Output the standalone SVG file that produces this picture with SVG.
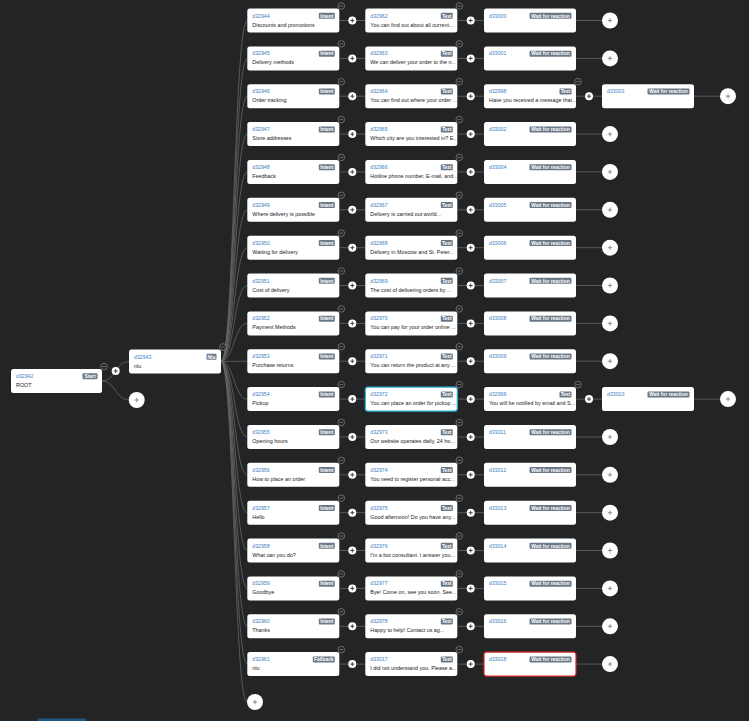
<svg xmlns="http://www.w3.org/2000/svg" width="749" height="721" viewBox="0 0 749 721">
<style>
.b{fill:#fff}
.id{font-family:"Liberation Sans",Arial,sans-serif;font-size:5.2px;fill:#3b82c4}
.lb{font-family:"Liberation Sans",Arial,sans-serif;font-size:5.4px;fill:#222}
.bd{fill:#6b7886}
.bt{font-family:"Liberation Sans",Arial,sans-serif;font-size:4.9px;font-weight:bold;fill:#fff;text-anchor:middle}
.c{fill:none;stroke:#666;stroke-width:.8}
.sel{stroke:#2ab0d8;stroke-width:1.2}
.err{stroke:#d42a2a;stroke-width:1.2}
</style>
<defs>
<g id="ps"><circle r="4" fill="#fff"/><path d="M-2,0H2M0,-2V2" stroke="#333" stroke-width=".9"/></g>
<g id="pb"><circle r="8" fill="#fff"/><path d="M-2.2,0H2.2M0,-2.2V2.2" stroke="#777" stroke-width=".8"/></g>
<g id="mi"><circle r="3.3" fill="#232425" stroke="#8a8a8a" stroke-width=".7"/><path d="M-1.8,0H1.8" stroke="#8a8a8a" stroke-width=".7"/></g>
</defs>
<rect width="749" height="721" fill="#232425"/>
<rect x="0" y="720" width="749" height="1" fill="#1c2a33"/>
<rect x="38" y="718.5" width="48" height="2.5" fill="#1f5a85"/>
<g id="connectors" class="c">
<path d="M102,381C115.5,381 115.5,361.5 129,361.5"/>
<path d="M102,381C115.5,381 115.5,400 128.7,400"/>
<path d="M221,361.5C234,361.5 234,20.5 247.3,20.5"/>
<path d="M221,361.5C234,361.5 234,58.4 247.3,58.4"/>
<path d="M221,361.5C234,361.5 234,96.2 247.3,96.2"/>
<path d="M221,361.5C234,361.5 234,134.1 247.3,134.1"/>
<path d="M221,361.5C234,361.5 234,171.9 247.3,171.9"/>
<path d="M221,361.5C234,361.5 234,209.8 247.3,209.8"/>
<path d="M221,361.5C234,361.5 234,247.7 247.3,247.7"/>
<path d="M221,361.5C234,361.5 234,285.5 247.3,285.5"/>
<path d="M221,361.5C234,361.5 234,323.4 247.3,323.4"/>
<path d="M221,361.5C234,361.5 234,361.2 247.3,361.2"/>
<path d="M221,361.5C234,361.5 234,399.1 247.3,399.1"/>
<path d="M221,361.5C234,361.5 234,437 247.3,437"/>
<path d="M221,361.5C234,361.5 234,474.8 247.3,474.8"/>
<path d="M221,361.5C234,361.5 234,512.7 247.3,512.7"/>
<path d="M221,361.5C234,361.5 234,550.5 247.3,550.5"/>
<path d="M221,361.5C234,361.5 234,588.4 247.3,588.4"/>
<path d="M221,361.5C234,361.5 234,626.3 247.3,626.3"/>
<path d="M221,361.5C234,361.5 234,664.1 247.3,664.1"/>
<path d="M221,361.5C234,361.5 234,702 247,702"/>
<path d="M339.3,20.5H365.3M457.3,20.5H484M576,20.5H602"/>
<path d="M339.3,58.4H365.3M457.3,58.4H484M576,58.4H602"/>
<path d="M339.3,96.2H365.3M457.3,96.2H484M576,96.2H602M694,96.2H720"/>
<path d="M339.3,134.1H365.3M457.3,134.1H484M576,134.1H602"/>
<path d="M339.3,171.9H365.3M457.3,171.9H484M576,171.9H602"/>
<path d="M339.3,209.8H365.3M457.3,209.8H484M576,209.8H602"/>
<path d="M339.3,247.7H365.3M457.3,247.7H484M576,247.7H602"/>
<path d="M339.3,285.5H365.3M457.3,285.5H484M576,285.5H602"/>
<path d="M339.3,323.4H365.3M457.3,323.4H484M576,323.4H602"/>
<path d="M339.3,361.2H365.3M457.3,361.2H484M576,361.2H602"/>
<path d="M339.3,399.1H365.3M457.3,399.1H484M576,399.1H602M694,399.1H720"/>
<path d="M339.3,437H365.3M457.3,437H484M576,437H602"/>
<path d="M339.3,474.8H365.3M457.3,474.8H484M576,474.8H602"/>
<path d="M339.3,512.7H365.3M457.3,512.7H484M576,512.7H602"/>
<path d="M339.3,550.5H365.3M457.3,550.5H484M576,550.5H602"/>
<path d="M339.3,588.4H365.3M457.3,588.4H484M576,588.4H602"/>
<path d="M339.3,626.3H365.3M457.3,626.3H484M576,626.3H602"/>
<path d="M339.3,664.1H365.3M457.3,664.1H484M576,664.1H602"/>
</g>
<g id="n-d32942" transform="translate(11,369)"><rect class="b" width="91" height="24" rx="2.5"/><text class="id" x="5" y="9">d32942</text><text class="lb" x="5" y="18">ROOT</text><rect class="bd" x="71.5" y="4.3" width="15" height="6" rx="1"/><text class="bt" x="79" y="9">Start</text></g>
<g id="n-d32943" transform="translate(129,349.5)"><rect class="b" width="92" height="24" rx="2.5"/><text class="id" x="5" y="9">d32943</text><text class="lb" x="5" y="18">nlu</text><rect class="bd" x="77.5" y="4.3" width="10" height="6" rx="1"/><text class="bt" x="82.5" y="9">Nlu</text></g>

<g id="n-d32944" transform="translate(247.3,8.5)"><rect class="b" width="92" height="24" rx="2.5"/><text class="id" x="5" y="9">d32944</text><text class="lb" x="5" y="18">Discounts and promotions</text><rect class="bd" x="71.5" y="4.3" width="16" height="6" rx="1"/><text class="bt" x="79.5" y="9">Intent</text></g>
<g id="n-d32945" transform="translate(247.3,46.4)"><rect class="b" width="92" height="24" rx="2.5"/><text class="id" x="5" y="9">d32945</text><text class="lb" x="5" y="18">Delivery methods</text><rect class="bd" x="71.5" y="4.3" width="16" height="6" rx="1"/><text class="bt" x="79.5" y="9">Intent</text></g>
<g id="n-d32946" transform="translate(247.3,84.2)"><rect class="b" width="92" height="24" rx="2.5"/><text class="id" x="5" y="9">d32946</text><text class="lb" x="5" y="18">Order tracking</text><rect class="bd" x="71.5" y="4.3" width="16" height="6" rx="1"/><text class="bt" x="79.5" y="9">Intent</text></g>
<g id="n-d32947" transform="translate(247.3,122.1)"><rect class="b" width="92" height="24" rx="2.5"/><text class="id" x="5" y="9">d32947</text><text class="lb" x="5" y="18">Store addresses</text><rect class="bd" x="71.5" y="4.3" width="16" height="6" rx="1"/><text class="bt" x="79.5" y="9">Intent</text></g>
<g id="n-d32948" transform="translate(247.3,159.9)"><rect class="b" width="92" height="24" rx="2.5"/><text class="id" x="5" y="9">d32948</text><text class="lb" x="5" y="18">Feedback</text><rect class="bd" x="71.5" y="4.3" width="16" height="6" rx="1"/><text class="bt" x="79.5" y="9">Intent</text></g>
<g id="n-d32949" transform="translate(247.3,197.8)"><rect class="b" width="92" height="24" rx="2.5"/><text class="id" x="5" y="9">d32949</text><text class="lb" x="5" y="18">Where delivery is possible</text><rect class="bd" x="71.5" y="4.3" width="16" height="6" rx="1"/><text class="bt" x="79.5" y="9">Intent</text></g>
<g id="n-d32950" transform="translate(247.3,235.7)"><rect class="b" width="92" height="24" rx="2.5"/><text class="id" x="5" y="9">d32950</text><text class="lb" x="5" y="18">Waiting for delivery</text><rect class="bd" x="71.5" y="4.3" width="16" height="6" rx="1"/><text class="bt" x="79.5" y="9">Intent</text></g>
<g id="n-d32951" transform="translate(247.3,273.5)"><rect class="b" width="92" height="24" rx="2.5"/><text class="id" x="5" y="9">d32951</text><text class="lb" x="5" y="18">Cost of delivery</text><rect class="bd" x="71.5" y="4.3" width="16" height="6" rx="1"/><text class="bt" x="79.5" y="9">Intent</text></g>
<g id="n-d32952" transform="translate(247.3,311.4)"><rect class="b" width="92" height="24" rx="2.5"/><text class="id" x="5" y="9">d32952</text><text class="lb" x="5" y="18">Payment Methods</text><rect class="bd" x="71.5" y="4.3" width="16" height="6" rx="1"/><text class="bt" x="79.5" y="9">Intent</text></g>
<g id="n-d32953" transform="translate(247.3,349.2)"><rect class="b" width="92" height="24" rx="2.5"/><text class="id" x="5" y="9">d32953</text><text class="lb" x="5" y="18">Purchase returns</text><rect class="bd" x="71.5" y="4.3" width="16" height="6" rx="1"/><text class="bt" x="79.5" y="9">Intent</text></g>
<g id="n-d32954" transform="translate(247.3,387.1)"><rect class="b" width="92" height="24" rx="2.5"/><text class="id" x="5" y="9">d32954</text><text class="lb" x="5" y="18">Pickup</text><rect class="bd" x="71.5" y="4.3" width="16" height="6" rx="1"/><text class="bt" x="79.5" y="9">Intent</text></g>
<g id="n-d32955" transform="translate(247.3,425)"><rect class="b" width="92" height="24" rx="2.5"/><text class="id" x="5" y="9">d32955</text><text class="lb" x="5" y="18">Opening hours</text><rect class="bd" x="71.5" y="4.3" width="16" height="6" rx="1"/><text class="bt" x="79.5" y="9">Intent</text></g>
<g id="n-d32956" transform="translate(247.3,462.8)"><rect class="b" width="92" height="24" rx="2.5"/><text class="id" x="5" y="9">d32956</text><text class="lb" x="5" y="18">How to place an order</text><rect class="bd" x="71.5" y="4.3" width="16" height="6" rx="1"/><text class="bt" x="79.5" y="9">Intent</text></g>
<g id="n-d32957" transform="translate(247.3,500.7)"><rect class="b" width="92" height="24" rx="2.5"/><text class="id" x="5" y="9">d32957</text><text class="lb" x="5" y="18">Hello</text><rect class="bd" x="71.5" y="4.3" width="16" height="6" rx="1"/><text class="bt" x="79.5" y="9">Intent</text></g>
<g id="n-d32958" transform="translate(247.3,538.5)"><rect class="b" width="92" height="24" rx="2.5"/><text class="id" x="5" y="9">d32958</text><text class="lb" x="5" y="18">What can you do?</text><rect class="bd" x="71.5" y="4.3" width="16" height="6" rx="1"/><text class="bt" x="79.5" y="9">Intent</text></g>
<g id="n-d32959" transform="translate(247.3,576.4)"><rect class="b" width="92" height="24" rx="2.5"/><text class="id" x="5" y="9">d32959</text><text class="lb" x="5" y="18">Goodbye</text><rect class="bd" x="71.5" y="4.3" width="16" height="6" rx="1"/><text class="bt" x="79.5" y="9">Intent</text></g>
<g id="n-d32960" transform="translate(247.3,614.3)"><rect class="b" width="92" height="24" rx="2.5"/><text class="id" x="5" y="9">d32960</text><text class="lb" x="5" y="18">Thanks</text><rect class="bd" x="71.5" y="4.3" width="16" height="6" rx="1"/><text class="bt" x="79.5" y="9">Intent</text></g>
<g id="n-d32961" transform="translate(247.3,652.1)"><rect class="b" width="92" height="24" rx="2.5"/><text class="id" x="5" y="9">d32961</text><text class="lb" x="5" y="18">nlu</text><rect class="bd" x="65.5" y="4.3" width="22" height="6" rx="1"/><text class="bt" x="76.5" y="9">Fallback</text></g>

<g id="n-d32962" transform="translate(365.3,8.5)"><rect class="b" width="92" height="24" rx="2.5"/><text class="id" x="5" y="9">d32962</text><text class="lb" x="5" y="18">You can find out about all current...</text><rect class="bd" x="75.5" y="4.3" width="12" height="6" rx="1"/><text class="bt" x="81.5" y="9">Text</text></g>
<g id="n-d32963" transform="translate(365.3,46.4)"><rect class="b" width="92" height="24" rx="2.5"/><text class="id" x="5" y="9">d32963</text><text class="lb" x="5" y="18">We can deliver your order to the n...</text><rect class="bd" x="75.5" y="4.3" width="12" height="6" rx="1"/><text class="bt" x="81.5" y="9">Text</text></g>
<g id="n-d32964" transform="translate(365.3,84.2)"><rect class="b" width="92" height="24" rx="2.5"/><text class="id" x="5" y="9">d32964</text><text class="lb" x="5" y="18">You can find out where your order ...</text><rect class="bd" x="75.5" y="4.3" width="12" height="6" rx="1"/><text class="bt" x="81.5" y="9">Text</text></g>
<g id="n-d32965" transform="translate(365.3,122.1)"><rect class="b" width="92" height="24" rx="2.5"/><text class="id" x="5" y="9">d32965</text><text class="lb" x="5" y="18">Which city are you interested in? E...</text><rect class="bd" x="75.5" y="4.3" width="12" height="6" rx="1"/><text class="bt" x="81.5" y="9">Text</text></g>
<g id="n-d32966" transform="translate(365.3,159.9)"><rect class="b" width="92" height="24" rx="2.5"/><text class="id" x="5" y="9">d32966</text><text class="lb" x="5" y="18">Hotline phone number, E-mail, and ...</text><rect class="bd" x="75.5" y="4.3" width="12" height="6" rx="1"/><text class="bt" x="81.5" y="9">Text</text></g>
<g id="n-d32967" transform="translate(365.3,197.8)"><rect class="b" width="92" height="24" rx="2.5"/><text class="id" x="5" y="9">d32967</text><text class="lb" x="5" y="18">Delivery is carried out world...</text><rect class="bd" x="75.5" y="4.3" width="12" height="6" rx="1"/><text class="bt" x="81.5" y="9">Text</text></g>
<g id="n-d32968" transform="translate(365.3,235.7)"><rect class="b" width="92" height="24" rx="2.5"/><text class="id" x="5" y="9">d32968</text><text class="lb" x="5" y="18">Delivery in Moscow and St. Peter...</text><rect class="bd" x="75.5" y="4.3" width="12" height="6" rx="1"/><text class="bt" x="81.5" y="9">Text</text></g>
<g id="n-d32969" transform="translate(365.3,273.5)"><rect class="b" width="92" height="24" rx="2.5"/><text class="id" x="5" y="9">d32969</text><text class="lb" x="5" y="18">The cost of delivering orders by ...</text><rect class="bd" x="75.5" y="4.3" width="12" height="6" rx="1"/><text class="bt" x="81.5" y="9">Text</text></g>
<g id="n-d32970" transform="translate(365.3,311.4)"><rect class="b" width="92" height="24" rx="2.5"/><text class="id" x="5" y="9">d32970</text><text class="lb" x="5" y="18">You can pay for your order online ...</text><rect class="bd" x="75.5" y="4.3" width="12" height="6" rx="1"/><text class="bt" x="81.5" y="9">Text</text></g>
<g id="n-d32971" transform="translate(365.3,349.2)"><rect class="b" width="92" height="24" rx="2.5"/><text class="id" x="5" y="9">d32971</text><text class="lb" x="5" y="18">You can return the product at any ...</text><rect class="bd" x="75.5" y="4.3" width="12" height="6" rx="1"/><text class="bt" x="81.5" y="9">Text</text></g>
<g id="n-d32972" transform="translate(365.3,387.1)"><rect class="b sel" width="92" height="24" rx="2.5"/><text class="id" x="5" y="9">d32972</text><text class="lb" x="5" y="18">You can place an order for pickup ...</text><rect class="bd" x="75.5" y="4.3" width="12" height="6" rx="1"/><text class="bt" x="81.5" y="9">Text</text></g>
<g id="n-d32973" transform="translate(365.3,425)"><rect class="b" width="92" height="24" rx="2.5"/><text class="id" x="5" y="9">d32973</text><text class="lb" x="5" y="18">Our website operates daily, 24 ho...</text><rect class="bd" x="75.5" y="4.3" width="12" height="6" rx="1"/><text class="bt" x="81.5" y="9">Text</text></g>
<g id="n-d32974" transform="translate(365.3,462.8)"><rect class="b" width="92" height="24" rx="2.5"/><text class="id" x="5" y="9">d32974</text><text class="lb" x="5" y="18">You need to register personal acc...</text><rect class="bd" x="75.5" y="4.3" width="12" height="6" rx="1"/><text class="bt" x="81.5" y="9">Text</text></g>
<g id="n-d32975" transform="translate(365.3,500.7)"><rect class="b" width="92" height="24" rx="2.5"/><text class="id" x="5" y="9">d32975</text><text class="lb" x="5" y="18">Good afternoon! Do you have any...</text><rect class="bd" x="75.5" y="4.3" width="12" height="6" rx="1"/><text class="bt" x="81.5" y="9">Text</text></g>
<g id="n-d32976" transform="translate(365.3,538.5)"><rect class="b" width="92" height="24" rx="2.5"/><text class="id" x="5" y="9">d32976</text><text class="lb" x="5" y="18">I'm a bot consultant. I answer you...</text><rect class="bd" x="75.5" y="4.3" width="12" height="6" rx="1"/><text class="bt" x="81.5" y="9">Text</text></g>
<g id="n-d32977" transform="translate(365.3,576.4)"><rect class="b" width="92" height="24" rx="2.5"/><text class="id" x="5" y="9">d32977</text><text class="lb" x="5" y="18">Bye! Come on, see you soon. See...</text><rect class="bd" x="75.5" y="4.3" width="12" height="6" rx="1"/><text class="bt" x="81.5" y="9">Text</text></g>
<g id="n-d32978" transform="translate(365.3,614.3)"><rect class="b" width="92" height="24" rx="2.5"/><text class="id" x="5" y="9">d32978</text><text class="lb" x="5" y="18">Happy to help! Contact us ag...</text><rect class="bd" x="75.5" y="4.3" width="12" height="6" rx="1"/><text class="bt" x="81.5" y="9">Text</text></g>
<g id="n-d33017" transform="translate(365.3,652.1)"><rect class="b" width="92" height="24" rx="2.5"/><text class="id" x="5" y="9">d33017</text><text class="lb" x="5" y="18">I did not understand you. Please a...</text><rect class="bd" x="75.5" y="4.3" width="12" height="6" rx="1"/><text class="bt" x="81.5" y="9">Text</text></g>

<g id="n-d33000" transform="translate(484,8.5)"><rect class="b" width="92" height="24" rx="2.5"/><text class="id" x="5" y="9">d33000</text><rect class="bd" x="45.5" y="4.3" width="42" height="6" rx="1"/><text class="bt" x="66.5" y="9">Wait for reaction</text></g>
<g id="n-d33001" transform="translate(484,46.4)"><rect class="b" width="92" height="24" rx="2.5"/><text class="id" x="5" y="9">d33001</text><rect class="bd" x="45.5" y="4.3" width="42" height="6" rx="1"/><text class="bt" x="66.5" y="9">Wait for reaction</text></g>
<g id="n-d32998" transform="translate(484,84.2)"><rect class="b" width="92" height="24" rx="2.5"/><text class="id" x="5" y="9">d32998</text><text class="lb" x="5" y="18">Have you received a message that...</text><rect class="bd" x="75.5" y="4.3" width="12" height="6" rx="1"/><text class="bt" x="81.5" y="9">Text</text></g>
<g id="n-d33002" transform="translate(484,122.1)"><rect class="b" width="92" height="24" rx="2.5"/><text class="id" x="5" y="9">d33002</text><rect class="bd" x="45.5" y="4.3" width="42" height="6" rx="1"/><text class="bt" x="66.5" y="9">Wait for reaction</text></g>
<g id="n-d33004" transform="translate(484,159.9)"><rect class="b" width="92" height="24" rx="2.5"/><text class="id" x="5" y="9">d33004</text><rect class="bd" x="45.5" y="4.3" width="42" height="6" rx="1"/><text class="bt" x="66.5" y="9">Wait for reaction</text></g>
<g id="n-d33005" transform="translate(484,197.8)"><rect class="b" width="92" height="24" rx="2.5"/><text class="id" x="5" y="9">d33005</text><rect class="bd" x="45.5" y="4.3" width="42" height="6" rx="1"/><text class="bt" x="66.5" y="9">Wait for reaction</text></g>
<g id="n-d33006" transform="translate(484,235.7)"><rect class="b" width="92" height="24" rx="2.5"/><text class="id" x="5" y="9">d33006</text><rect class="bd" x="45.5" y="4.3" width="42" height="6" rx="1"/><text class="bt" x="66.5" y="9">Wait for reaction</text></g>
<g id="n-d33007" transform="translate(484,273.5)"><rect class="b" width="92" height="24" rx="2.5"/><text class="id" x="5" y="9">d33007</text><rect class="bd" x="45.5" y="4.3" width="42" height="6" rx="1"/><text class="bt" x="66.5" y="9">Wait for reaction</text></g>
<g id="n-d33008" transform="translate(484,311.4)"><rect class="b" width="92" height="24" rx="2.5"/><text class="id" x="5" y="9">d33008</text><rect class="bd" x="45.5" y="4.3" width="42" height="6" rx="1"/><text class="bt" x="66.5" y="9">Wait for reaction</text></g>
<g id="n-d33009" transform="translate(484,349.2)"><rect class="b" width="92" height="24" rx="2.5"/><text class="id" x="5" y="9">d33009</text><rect class="bd" x="45.5" y="4.3" width="42" height="6" rx="1"/><text class="bt" x="66.5" y="9">Wait for reaction</text></g>
<g id="n-d32999" transform="translate(484,387.1)"><rect class="b" width="92" height="24" rx="2.5"/><text class="id" x="5" y="9">d32999</text><text class="lb" x="5" y="18">You will be notified by email and S...</text><rect class="bd" x="75.5" y="4.3" width="12" height="6" rx="1"/><text class="bt" x="81.5" y="9">Text</text></g>
<g id="n-d33011" transform="translate(484,425)"><rect class="b" width="92" height="24" rx="2.5"/><text class="id" x="5" y="9">d33011</text><rect class="bd" x="45.5" y="4.3" width="42" height="6" rx="1"/><text class="bt" x="66.5" y="9">Wait for reaction</text></g>
<g id="n-d33012" transform="translate(484,462.8)"><rect class="b" width="92" height="24" rx="2.5"/><text class="id" x="5" y="9">d33012</text><rect class="bd" x="45.5" y="4.3" width="42" height="6" rx="1"/><text class="bt" x="66.5" y="9">Wait for reaction</text></g>
<g id="n-d33013" transform="translate(484,500.7)"><rect class="b" width="92" height="24" rx="2.5"/><text class="id" x="5" y="9">d33013</text><rect class="bd" x="45.5" y="4.3" width="42" height="6" rx="1"/><text class="bt" x="66.5" y="9">Wait for reaction</text></g>
<g id="n-d33014" transform="translate(484,538.5)"><rect class="b" width="92" height="24" rx="2.5"/><text class="id" x="5" y="9">d33014</text><rect class="bd" x="45.5" y="4.3" width="42" height="6" rx="1"/><text class="bt" x="66.5" y="9">Wait for reaction</text></g>
<g id="n-d33015" transform="translate(484,576.4)"><rect class="b" width="92" height="24" rx="2.5"/><text class="id" x="5" y="9">d33015</text><rect class="bd" x="45.5" y="4.3" width="42" height="6" rx="1"/><text class="bt" x="66.5" y="9">Wait for reaction</text></g>
<g id="n-d33016" transform="translate(484,614.3)"><rect class="b" width="92" height="24" rx="2.5"/><text class="id" x="5" y="9">d33016</text><rect class="bd" x="45.5" y="4.3" width="42" height="6" rx="1"/><text class="bt" x="66.5" y="9">Wait for reaction</text></g>
<g id="n-d33018" transform="translate(484,652.1)"><rect class="b err" width="92" height="24" rx="2.5"/><text class="id" x="5" y="9">d33018</text><rect class="bd" x="45.5" y="4.3" width="42" height="6" rx="1"/><text class="bt" x="66.5" y="9">Wait for reaction</text></g>

<g id="n-d33003" transform="translate(602,84.2)"><rect class="b" width="92" height="24" rx="2.5"/><text class="id" x="5" y="9">d33003</text><rect class="bd" x="45.5" y="4.3" width="42" height="6" rx="1"/><text class="bt" x="66.5" y="9">Wait for reaction</text></g>
<g id="n-d33010" transform="translate(602,387.1)"><rect class="b" width="92" height="24" rx="2.5"/><text class="id" x="5" y="9">d33010</text><rect class="bd" x="45.5" y="4.3" width="42" height="6" rx="1"/><text class="bt" x="66.5" y="9">Wait for reaction</text></g>

<g id="controls">
<use href="#mi" x="104" y="366.5"/>
<use href="#mi" x="223" y="347"/>
<use href="#ps" x="115.7" y="371"/>
<use href="#pb" x="136.7" y="400"/>
<use href="#pb" x="255" y="702"/>
<use href="#mi" x="341.3" y="6"/><use href="#mi" x="459.3" y="6"/>
<use href="#mi" x="341.3" y="43.9"/><use href="#mi" x="459.3" y="43.9"/>
<use href="#mi" x="341.3" y="81.7"/><use href="#mi" x="459.3" y="81.7"/><use href="#mi" x="578" y="81.7"/>
<use href="#mi" x="341.3" y="119.6"/><use href="#mi" x="459.3" y="119.6"/>
<use href="#mi" x="341.3" y="157.4"/><use href="#mi" x="459.3" y="157.4"/>
<use href="#mi" x="341.3" y="195.3"/><use href="#mi" x="459.3" y="195.3"/>
<use href="#mi" x="341.3" y="233.2"/><use href="#mi" x="459.3" y="233.2"/>
<use href="#mi" x="341.3" y="271"/><use href="#mi" x="459.3" y="271"/>
<use href="#mi" x="341.3" y="308.9"/><use href="#mi" x="459.3" y="308.9"/>
<use href="#mi" x="341.3" y="346.7"/><use href="#mi" x="459.3" y="346.7"/>
<use href="#mi" x="341.3" y="384.6"/><use href="#mi" x="459.3" y="384.6"/><use href="#mi" x="578" y="384.6"/>
<use href="#mi" x="341.3" y="422.5"/><use href="#mi" x="459.3" y="422.5"/>
<use href="#mi" x="341.3" y="460.3"/><use href="#mi" x="459.3" y="460.3"/>
<use href="#mi" x="341.3" y="498.2"/><use href="#mi" x="459.3" y="498.2"/>
<use href="#mi" x="341.3" y="536"/><use href="#mi" x="459.3" y="536"/>
<use href="#mi" x="341.3" y="573.9"/><use href="#mi" x="459.3" y="573.9"/>
<use href="#mi" x="341.3" y="611.8"/><use href="#mi" x="459.3" y="611.8"/>
<use href="#mi" x="341.3" y="649.6"/><use href="#mi" x="459.3" y="649.6"/>

<use href="#ps" x="352.3" y="20.5"/><use href="#ps" x="470.7" y="20.5"/><use href="#pb" x="610" y="20.5"/>
<use href="#ps" x="352.3" y="58.4"/><use href="#ps" x="470.7" y="58.4"/><use href="#pb" x="610" y="58.4"/>
<use href="#ps" x="352.3" y="96.2"/><use href="#ps" x="470.7" y="96.2"/><use href="#ps" x="589" y="96.2"/><use href="#pb" x="728" y="96.2"/>
<use href="#ps" x="352.3" y="134.1"/><use href="#ps" x="470.7" y="134.1"/><use href="#pb" x="610" y="134.1"/>
<use href="#ps" x="352.3" y="171.9"/><use href="#ps" x="470.7" y="171.9"/><use href="#pb" x="610" y="171.9"/>
<use href="#ps" x="352.3" y="209.8"/><use href="#ps" x="470.7" y="209.8"/><use href="#pb" x="610" y="209.8"/>
<use href="#ps" x="352.3" y="247.7"/><use href="#ps" x="470.7" y="247.7"/><use href="#pb" x="610" y="247.7"/>
<use href="#ps" x="352.3" y="285.5"/><use href="#ps" x="470.7" y="285.5"/><use href="#pb" x="610" y="285.5"/>
<use href="#ps" x="352.3" y="323.4"/><use href="#ps" x="470.7" y="323.4"/><use href="#pb" x="610" y="323.4"/>
<use href="#ps" x="352.3" y="361.2"/><use href="#ps" x="470.7" y="361.2"/><use href="#pb" x="610" y="361.2"/>
<use href="#ps" x="352.3" y="399.1"/><use href="#ps" x="470.7" y="399.1"/><use href="#ps" x="589" y="399.1"/><use href="#pb" x="728" y="399.1"/>
<use href="#ps" x="352.3" y="437"/><use href="#ps" x="470.7" y="437"/><use href="#pb" x="610" y="437"/>
<use href="#ps" x="352.3" y="474.8"/><use href="#ps" x="470.7" y="474.8"/><use href="#pb" x="610" y="474.8"/>
<use href="#ps" x="352.3" y="512.7"/><use href="#ps" x="470.7" y="512.7"/><use href="#pb" x="610" y="512.7"/>
<use href="#ps" x="352.3" y="550.5"/><use href="#ps" x="470.7" y="550.5"/><use href="#pb" x="610" y="550.5"/>
<use href="#ps" x="352.3" y="588.4"/><use href="#ps" x="470.7" y="588.4"/><use href="#pb" x="610" y="588.4"/>
<use href="#ps" x="352.3" y="626.3"/><use href="#ps" x="470.7" y="626.3"/><use href="#pb" x="610" y="626.3"/>
<use href="#ps" x="352.3" y="664.1"/><use href="#ps" x="470.7" y="664.1"/><use href="#pb" x="610" y="664.1"/>
</g>
</svg>
